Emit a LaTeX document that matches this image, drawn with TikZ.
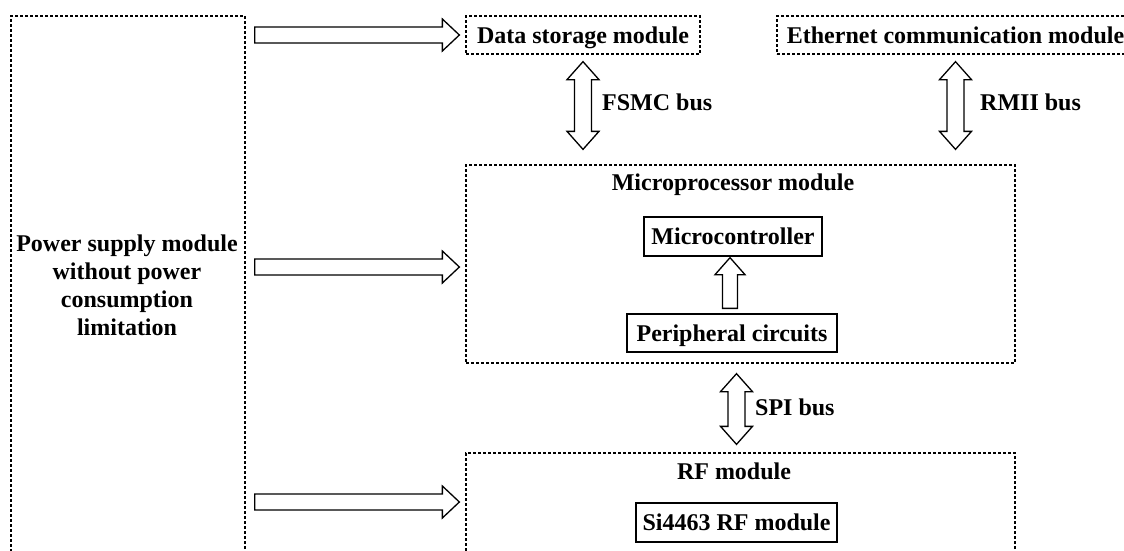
\documentclass[tikz,border=0pt]{standalone}
\usepackage{fontspec}
\setmainfont{Liberation Serif}
\usetikzlibrary{calc}
\tikzset{
  dbox/.style={draw, line width=1.3pt, dash pattern=on 3pt off 2pt},
  sbox/.style={draw, line width=1.3pt, inner sep=0pt},
  lbl/.style={font=\fontsize{24}{28}\selectfont\bfseries, inner sep=0pt},
  fixh/.style={text height=16.5pt, text depth=0pt},
  blockarrow/.style={draw, line width=1.3pt, fill=white, line join=miter},
}
% horizontal block arrow: tail, tip
\newcommand\rarrow[2]{%
  \draw[blockarrow] ($(#1)+(0,-8)$) -- ($(#2)+(-17,-8)$) -- ($(#2)+(-17,-16)$) -- (#2)
    -- ($(#2)+(-17,16)$) -- ($(#2)+(-17,8)$) -- ($(#1)+(0,8)$) -- cycle;}
% vertical double block arrow: top tip, bottom tip
\newcommand\dblarrow[2]{%
  \draw[blockarrow] (#1) -- ($(#1)+(16,18)$) -- ($(#1)+(8.5,18)$) -- ($(#2)+(8.5,-18)$)
    -- ($(#2)+(16,-18)$) -- (#2) -- ($(#2)+(-16,-18)$) -- ($(#2)+(-8.5,-18)$)
    -- ($(#1)+(-8.5,18)$) -- ($(#1)+(-16,18)$) -- cycle;}
% upward block arrow: tip, tail
\newcommand\uparr[2]{%
  \draw[blockarrow] (#1) -- ($(#1)+(15,17)$) -- ($(#1)+(7.5,17)$) -- ($(#2)+(7.5,0)$)
    -- ($(#2)+(-7.5,0)$) -- ($(#1)+(-7.5,17)$) -- ($(#1)+(-15,17)$) -- cycle;}
\begin{document}
\begin{tikzpicture}[x=1pt, y=-1pt]
\useasboundingbox (0,0) rectangle (1124,550);
\clip (0,0) rectangle (1124,550);

% power supply
\node[dbox, minimum width=234pt, minimum height=564pt, inner sep=0pt] (pw) at (128,298) {};
\node[lbl, align=center] (pwt) at (127,285.5) {Power supply module\\without power\\consumption\\limitation};

% top modules
\node[dbox, lbl, fixh, minimum width=234pt, minimum height=38pt] (ds) at (583,35) {Data storage module};
\node[dbox, lbl, fixh, minimum width=357pt, minimum height=38pt] (eth) at (955.5,35) {Ethernet communication module};

% microprocessor module
\node[dbox, minimum width=549pt, minimum height=198pt, inner sep=0pt] (mp) at (740.5,264) {};
\node[lbl, fixh] (mpt) at (733,182) {Microprocessor module};
\node[sbox, lbl, fixh, minimum width=178pt, minimum height=39pt] (mc) at (733,236.5) {Microcontroller};
\node[sbox, lbl, fixh, minimum width=210pt, minimum height=38pt] (pc) at (732,333) {Peripheral circuits};

% RF module
\node[dbox, minimum width=549pt, minimum height=117pt, inner sep=0pt] (rf) at (740.5,511.5) {};
\node[lbl, fixh] (rft) at (734,471.5) {RF module};
\node[sbox, lbl, fixh, minimum width=201pt, minimum height=39pt] (si) at (736.5,522.5) {Si4463 RF module};

% connector end points
\coordinate (a1s) at ($(pw.east |- ds.west)+(9,0)$);
\coordinate (a1e) at ($(ds.west)+(-6,0)$);
\coordinate (a2s) at ($(pw.east |- mp.west)+(9,3)$);
\coordinate (a2e) at ($(mp.west)+(-6,3)$);
\coordinate (a3s) at ($(pw.east |- rf.west)+(9,-9.5)$);
\coordinate (a3e) at ($(rf.west)+(-6,-9.5)$);
\coordinate (fs1) at ($(ds.south)+(0,7)$);
\coordinate (fs2) at ($(ds.south |- mp.north)+(0,-15)$);
\coordinate (rm1) at ($(eth.south)+(0,7)$);
\coordinate (rm2) at ($(eth.south |- mp.north)+(0,-15)$);
\coordinate (sp1) at ($(si.north |- mp.south)+(0,10)$);
\coordinate (sp2) at ($(si.north |- rf.north)+(0,-8)$);
\coordinate (ua1) at ($(mc.south)+(-3,1)$);
\coordinate (ua2) at ($(mc.south |- pc.north)+(-3,-5)$);

\rarrow{a1s}{a1e}
\rarrow{a2s}{a2e}
\rarrow{a3s}{a3e}
\dblarrow{fs1}{fs2}
\dblarrow{rm1}{rm2}
\dblarrow{sp1}{sp2}
\uparr{ua1}{ua2}

% bus labels
\node[lbl, fixh, anchor=west] (fsl) at (602,102) {FSMC bus};
\node[lbl, fixh, anchor=west] (rml) at (980,102) {RMII bus};
\node[lbl, fixh, anchor=west] (spl) at (755,407) {SPI bus};
\end{tikzpicture}
\end{document}
